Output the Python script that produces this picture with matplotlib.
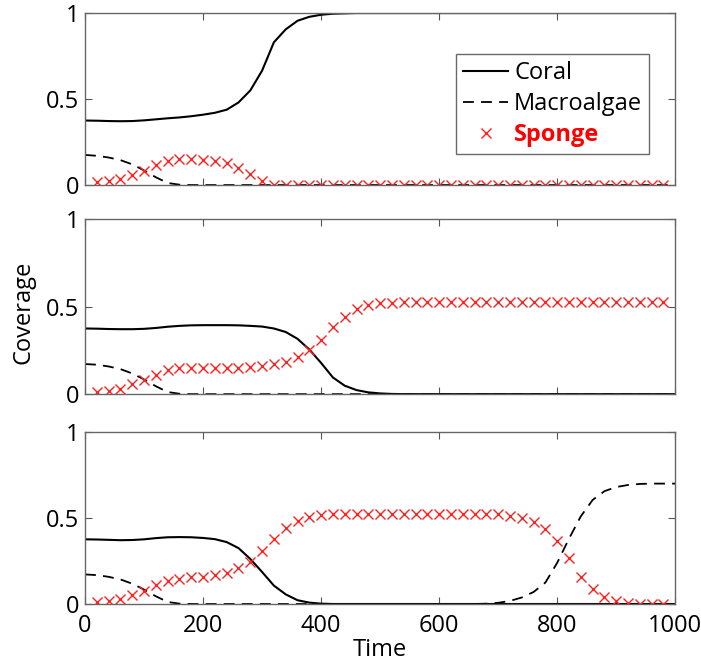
import numpy as np
import matplotlib.pyplot as plt

plt.rcParams['font.family'] = ['Open Sans', 'DejaVu Sans']

# time grid shared by all three runs
time = np.arange(0, 1001, 20)

# run 1: coral recovers
coral_1 = [0.375, 0.374, 0.372, 0.371, 0.372, 0.376, 0.382, 0.388, 0.393, 0.400,
           0.409, 0.420, 0.438, 0.480, 0.550, 0.665, 0.830, 0.905, 0.955, 0.978,
           0.990, 0.996, 0.998] + [1.0] * 28
macro_1 = [0.175, 0.170, 0.160, 0.145, 0.120, 0.085, 0.045, 0.012, 0.002] + [0.0] * 42
sponge_1 = [0.010, 0.020, 0.023, 0.035, 0.058, 0.081, 0.116, 0.140, 0.149, 0.149,
            0.145, 0.140, 0.126, 0.100, 0.064, 0.025] + [0.0] * 35

# run 2: sponge takes over
coral_2 = [0.375, 0.374, 0.372, 0.371, 0.371, 0.373, 0.378, 0.385, 0.390, 0.393,
           0.394, 0.394, 0.394, 0.393, 0.390, 0.386, 0.375, 0.355, 0.316, 0.255,
           0.178, 0.095, 0.048, 0.023, 0.010, 0.004, 0.001] + [0.0] * 24
macro_2 = [0.172, 0.168, 0.158, 0.143, 0.118, 0.084, 0.045, 0.012, 0.002] + [0.0] * 42
sponge_2 = [0.008, 0.013, 0.019, 0.032, 0.055, 0.080, 0.112, 0.137, 0.147, 0.150,
            0.150, 0.150, 0.152, 0.152, 0.156, 0.160, 0.171, 0.185, 0.213, 0.251,
            0.312, 0.381, 0.442, 0.484, 0.509, 0.518, 0.522, 0.524] + [0.525] * 23

# run 3: sponge then macroalgae
coral_3 = [0.376, 0.375, 0.373, 0.371, 0.372, 0.376, 0.383, 0.388, 0.389, 0.388,
           0.384, 0.377, 0.360, 0.325, 0.262, 0.186, 0.107, 0.056, 0.022, 0.008,
           0.002] + [0.0] * 30
macro_3 = ([0.172, 0.168, 0.158, 0.143, 0.118, 0.084, 0.045, 0.012, 0.002] + [0.0] * 25 +
           [0.002, 0.007, 0.018, 0.038, 0.070, 0.125, 0.240, 0.380, 0.510, 0.605,
            0.656, 0.680, 0.692, 0.698, 0.700, 0.700, 0.700])
sponge_3 = ([0.008, 0.014, 0.017, 0.029, 0.052, 0.076, 0.110, 0.136, 0.147, 0.155,
             0.159, 0.169, 0.182, 0.207, 0.246, 0.308, 0.376, 0.440, 0.484, 0.504,
             0.517, 0.523, 0.525] + [0.525] * 11 +
            [0.521, 0.521, 0.513, 0.502, 0.479, 0.434, 0.366, 0.266, 0.159, 0.085,
             0.039, 0.019, 0.006, 0.002, 0.0, 0.0, 0.0])

runs = [(coral_1, macro_1, sponge_1),
        (coral_2, macro_2, sponge_2),
        (coral_3, macro_3, sponge_3)]

fig = plt.figure(figsize=(7.01, 6.68), dpi=100)
boxes = [[0.1213, 0.723, 0.842, 0.2575],
         [0.1213, 0.410, 0.842, 0.262],
         [0.1213, 0.0958, 0.842, 0.2575]]

axes = []
for box, (coral, macro, sponge) in zip(boxes, runs):
    ax = fig.add_axes(box)
    ax.plot(time, coral, color='black', lw=1.5, label='Coral')
    ax.plot(time, macro, color='black', lw=1.3, ls=(0, (6, 4)), label='Macroalgae')
    # sponge is marked at the inner sample times only
    ax.plot(time[1:-1], sponge[1:-1], ls='none', marker='x', ms=7, mew=1.0,
            color='#ff2020', label='Sponge')
    ax.set_xlim(0, 1000)
    ax.set_ylim(0, 1)
    ax.set_yticks([0, 0.5, 1])
    ax.set_yticklabels(['0', '0.5', '1'])
    ax.set_xticks(range(0, 1001, 200))
    ax.tick_params(direction='in', top=True, right=True, length=5, width=0.8,
                   color='#555555', labelsize=17)
    ax.tick_params(axis='y', pad=4)
    ax.tick_params(axis='x', pad=7)
    for s in ax.spines.values():
        s.set_color('#666666')
        s.set_linewidth(1.0)
    axes.append(ax)

for ax in axes[:2]:
    ax.set_xticklabels([])

leg = axes[0].legend(loc='upper right', bbox_to_anchor=(0.956, 0.762), fontsize=17,
                     frameon=True, fancybox=False, edgecolor='#444444',
                     handlelength=1.9, handletextpad=0.25, borderpad=0.3,
                     labelspacing=0.3, borderaxespad=0)
leg.get_frame().set_linewidth(1.0)
sponge_text = leg.get_texts()[2]
sponge_text.set_color('red')
sponge_text.set_fontweight('bold')

axes[2].set_xlabel('Time', fontsize=17, labelpad=0)
fig.text(0.034, 0.533, 'Coverage', rotation=90, fontsize=17, ha='center', va='center')

fig.savefig('out.png', dpi=100)
